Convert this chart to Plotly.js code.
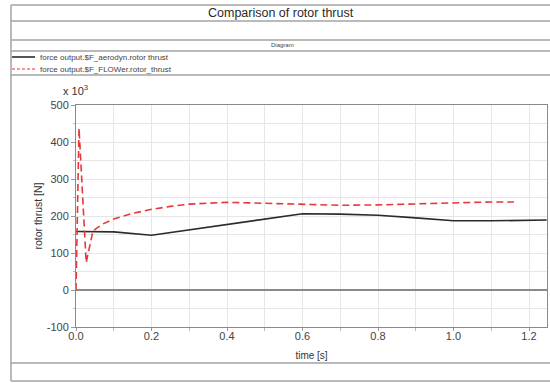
<!DOCTYPE html>
<html>
<head>
<meta charset="utf-8">
<script src="https://cdn.plot.ly/plotly-3.0.1.min.js"></script>
<style>
  html, body { margin: 0; padding: 0; background: #ffffff; }
  #chart { width: 550px; height: 383px; }
</style>
</head>
<body>
<div id="chart"></div>
<script>
// Rotor thrust, values in units of 10^3 N
const timeAerodyn = [0, 0.1, 0.2, 0.3, 0.4, 0.5, 0.6, 0.7, 0.8, 0.9, 1.0, 1.1, 1.247];
const thrustAerodyn = [158, 157, 148, 163, 178, 192, 206, 205, 202, 195, 187, 187, 189];

const timeFlower = [0, 0.008, 0.027, 0.045, 0.07, 0.1, 0.15, 0.2, 0.25, 0.3, 0.4, 0.5, 0.6, 0.7, 0.8, 0.9, 1.0, 1.1, 1.16];
const thrustFlower = [0, 437, 74, 160, 178, 192, 207, 218, 226, 232, 237, 234, 230, 229, 230, 233, 236, 238, 238];

const seriesNames = ['force output.$F_aerodyn.rotor thrust', 'force output.$F_FLOWer.rotor_thrust'];
const yTickValues = [-100, 0, 100, 200, 300, 400, 500];
const yTickLabels = ['-100', '0', '100', '200', '300', '400', '500'];
const xTickValues = [0, 0.2, 0.4, 0.6, 0.8, 1.0, 1.2];

const W = 550, H = 383;
const M = { l: 76, r: 3, t: 105, b: 56 };
const plotW = W - M.l - M.r, plotH = H - M.t - M.b;
const px = x => (x - M.l) / plotW;          // pixel column -> paper x
const py = y => (H - M.b - y) / plotH;      // pixel row -> paper y

const FONT = 'Liberation Sans, Arial, sans-serif';
const frameColor = '#a3a3a3';
const blackLine = { color: '#2b2b2b', width: 1.6 };
const redLine = { color: '#e5383b', width: 1.6, dash: '7px,4px' };

const traces = [
  { x: timeAerodyn, y: thrustAerodyn, name: seriesNames[0], mode: 'lines', line: blackLine, showlegend: false },
  { x: timeFlower, y: thrustFlower, name: seriesNames[1], mode: 'lines', line: redLine, showlegend: false }
];

// page frame: horizontal separators and left edge
const shapes = [];
[5, 21, 40, 51, 75, 363, 381].forEach(r => {
  shapes.push({ type: 'line', xref: 'paper', yref: 'paper', x0: px(11), x1: px(551), y0: py(r), y1: py(r),
    line: { color: frameColor, width: 1.5 } });
});
shapes.push({ type: 'line', xref: 'paper', yref: 'paper', x0: px(11), x1: px(11), y0: py(5), y1: py(381),
  line: { color: frameColor, width: 1.5 } });

// legend samples
shapes.push({ type: 'line', xref: 'paper', yref: 'paper', x0: px(12), x1: px(35), y0: py(57), y1: py(57),
  line: { color: blackLine.color, width: 1.6 } });
shapes.push({ type: 'line', xref: 'paper', yref: 'paper', x0: px(12), x1: px(35), y0: py(69), y1: py(69),
  line: { color: redLine.color, width: 1.2, dash: '3px,2px' } });

const annotations = [
  { text: 'Comparison of rotor thrust', xref: 'paper', yref: 'paper', x: px(281), y: py(13),
    showarrow: false, font: { family: FONT, size: 12.5, color: '#2a2a2a' }, xanchor: 'center', yanchor: 'middle' },
  { text: 'Diagram', xref: 'paper', yref: 'paper', x: px(282), y: py(45),
    showarrow: false, font: { family: FONT, size: 6, color: '#444' }, xanchor: 'center', yanchor: 'middle' },
  { text: seriesNames[0], xref: 'paper', yref: 'paper', x: px(38), y: py(57),
    showarrow: false, font: { family: FONT, size: 8, color: '#444' }, xanchor: 'left', yanchor: 'middle' },
  { text: seriesNames[1], xref: 'paper', yref: 'paper', x: px(38), y: py(69),
    showarrow: false, font: { family: FONT, size: 8, color: '#444' }, xanchor: 'left', yanchor: 'middle' },
  { text: 'x 10<sup>3</sup>', xref: 'paper', yref: 'paper', x: px(61), y: py(90),
    showarrow: false, font: { family: FONT, size: 11, color: '#333' }, xanchor: 'left', yanchor: 'middle' }
];

const layout = {
  width: W, height: H,
  margin: M,
  paper_bgcolor: '#ffffff', plot_bgcolor: '#ffffff',
  font: { family: FONT, color: '#333' },
  showlegend: false,
  xaxis: {
    range: [0, plotW / 377.5], tickvals: xTickValues, tickformat: '.1f',
    ticks: 'outside', ticklen: 3, tickcolor: '#999',
    ticklabelstandoff: -4,
    showgrid: true, gridcolor: '#e6e6e6', gridwidth: 1,
    minor: { dtick: 0.1, tick0: 0, showgrid: true, gridcolor: '#e6e6e6', ticks: 'outside', ticklen: 3, tickcolor: '#bbb' },
    showline: true, mirror: true, linecolor: '#8a8a8a', linewidth: 1,
    zeroline: false,
    tickfont: { family: FONT, size: 11, color: '#444' },
    title: { text: 'time [s]', font: { family: FONT, size: 10, color: '#333' }, standoff: 10 },
    automargin: false
  },
  yaxis: {
    range: [-100, 500], tickvals: yTickValues, ticktext: yTickLabels,
    ticks: 'outside', ticklen: 4, tickcolor: '#999',
    showgrid: true, gridcolor: '#e6e6e6', gridwidth: 1,
    minor: { dtick: 50, tick0: 0, showgrid: true, gridcolor: '#e6e6e6', ticks: 'outside', ticklen: 2, tickcolor: '#bbb' },
    showline: true, mirror: true, linecolor: '#8a8a8a', linewidth: 1,
    zeroline: true, zerolinecolor: '#8a8a8a', zerolinewidth: 1.5,
    tickfont: { family: FONT, size: 11, color: '#444' },
    title: { text: 'rotor thrust [N]', font: { family: FONT, size: 10.5, color: '#333' }, standoff: 2 },
    automargin: false
  },
  shapes: shapes,
  annotations: annotations
};

Plotly.newPlot('chart', traces, layout, { staticPlot: true, displayModeBar: false });
</script>
</body>
</html>
